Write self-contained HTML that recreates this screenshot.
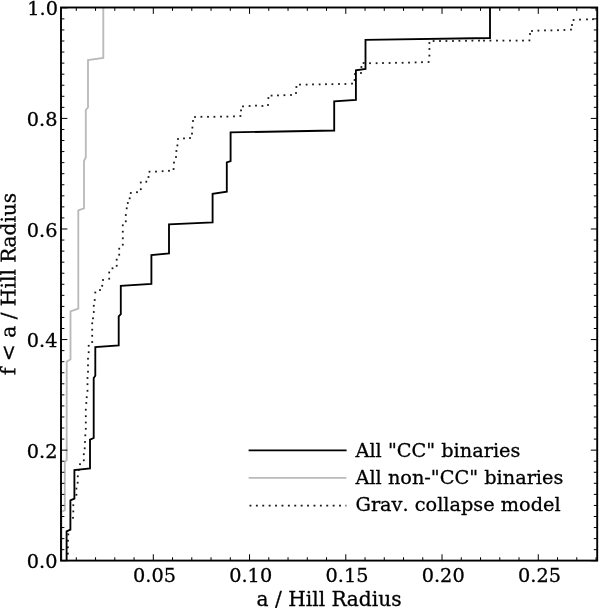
<!DOCTYPE html>
<html><head><meta charset="utf-8"><title>a / Hill Radius</title>
<style>html,body{margin:0;padding:0;background:#fff}svg{display:block}text{stroke:#000;stroke-width:0.3px;font-kerning:none;font-family:"DejaVu Serif","Liberation Serif",serif;fill:#000}</style></head><body>
<svg width="600" height="608" viewBox="0 0 600 608">
<rect width="600" height="608" fill="#fff"/>
<polyline points="61.5,560.5 61.5,511.6 64.8,510.4 64.8,462.0 66.7,460.0 66.7,361.7 70.5,359.2 70.5,311.3 78.3,308.7 78.3,210.5 84.0,208.3 84.0,160.8 85.8,157.5 85.8,110.0 88.0,107.5 88.0,60.0 103.3,58.0 103.3,7.4" fill="none" stroke="#bababa" stroke-width="1.85" stroke-linejoin="miter"/>
<g fill="#000" opacity="0.9"><rect x="76.8" y="481.8" width="1.8" height="1.8"/><rect x="75.5" y="487.7" width="1.8" height="1.8"/><rect x="75.5" y="493.9" width="1.8" height="1.8"/><rect x="72.4" y="504.3" width="1.8" height="1.8"/><rect x="72.4" y="510.5" width="1.8" height="1.8"/><rect x="72.1" y="516.9" width="1.8" height="1.8"/><rect x="67.4" y="533.5" width="1.8" height="1.8"/><rect x="67.1" y="539.8" width="1.8" height="1.8"/><rect x="67.0" y="546.4" width="1.8" height="1.8"/><rect x="67.0" y="552.7" width="1.8" height="1.8"/><rect x="85.4" y="402.1" width="1.8" height="1.8"/><rect x="84.9" y="408.8" width="1.8" height="1.8"/><rect x="84.9" y="415.3" width="1.8" height="1.8"/><rect x="84.9" y="421.6" width="1.8" height="1.8"/><rect x="84.9" y="427.9" width="1.8" height="1.8"/><rect x="84.4" y="434.4" width="1.8" height="1.8"/><rect x="84.1" y="441.1" width="1.8" height="1.8"/><rect x="83.8" y="447.4" width="1.8" height="1.8"/><rect x="82.9" y="453.3" width="1.8" height="1.8"/><rect x="82.9" y="459.4" width="1.8" height="1.8"/><rect x="79.1" y="463.3" width="1.8" height="1.8"/><rect x="77.8" y="469.1" width="1.8" height="1.8"/><rect x="76.9" y="475.4" width="1.8" height="1.8"/><rect x="93.8" y="299.1" width="1.8" height="1.8"/><rect x="92.9" y="304.9" width="1.8" height="1.8"/><rect x="92.9" y="311.1" width="1.8" height="1.8"/><rect x="92.1" y="317.4" width="1.8" height="1.8"/><rect x="91.3" y="322.4" width="1.8" height="1.8"/><rect x="91.3" y="328.8" width="1.8" height="1.8"/><rect x="91.3" y="334.9" width="1.8" height="1.8"/><rect x="91.3" y="341.1" width="1.8" height="1.8"/><rect x="87.8" y="344.9" width="1.8" height="1.8"/><rect x="87.8" y="351.3" width="1.8" height="1.8"/><rect x="87.1" y="357.8" width="1.8" height="1.8"/><rect x="87.1" y="364.4" width="1.8" height="1.8"/><rect x="87.1" y="370.8" width="1.8" height="1.8"/><rect x="86.6" y="377.1" width="1.8" height="1.8"/><rect x="86.6" y="383.3" width="1.8" height="1.8"/><rect x="86.6" y="389.9" width="1.8" height="1.8"/><rect x="85.8" y="396.3" width="1.8" height="1.8"/><rect x="126.9" y="202.1" width="1.8" height="1.8"/><rect x="125.8" y="207.4" width="1.8" height="1.8"/><rect x="124.9" y="214.1" width="1.8" height="1.8"/><rect x="124.9" y="220.4" width="1.8" height="1.8"/><rect x="121.9" y="224.4" width="1.8" height="1.8"/><rect x="121.9" y="230.8" width="1.8" height="1.8"/><rect x="121.9" y="237.4" width="1.8" height="1.8"/><rect x="121.9" y="243.8" width="1.8" height="1.8"/><rect x="118.3" y="247.8" width="1.8" height="1.8"/><rect x="118.3" y="253.8" width="1.8" height="1.8"/><rect x="115.8" y="258.8" width="1.8" height="1.8"/><rect x="115.8" y="264.9" width="1.8" height="1.8"/><rect x="111.6" y="267.4" width="1.8" height="1.8"/><rect x="108.3" y="271.6" width="1.8" height="1.8"/><rect x="108.3" y="277.8" width="1.8" height="1.8"/><rect x="102.1" y="279.1" width="1.8" height="1.8"/><rect x="101.3" y="284.9" width="1.8" height="1.8"/><rect x="99.1" y="289.1" width="1.8" height="1.8"/><rect x="94.4" y="291.6" width="1.8" height="1.8"/><rect x="128.8" y="197.4" width="1.8" height="1.8"/><rect x="129.9" y="192.1" width="1.8" height="1.8"/><rect x="136.1" y="191.3" width="1.8" height="1.8"/><rect x="139.9" y="188.3" width="1.8" height="1.8"/><rect x="139.9" y="181.6" width="1.8" height="1.8"/><rect x="145.4" y="180.8" width="1.8" height="1.8"/><rect x="147.6" y="176.1" width="1.8" height="1.8"/><rect x="148.6" y="170.8" width="1.8" height="1.8"/><rect x="155.1" y="170.7" width="1.8" height="1.8"/><rect x="161.7" y="170.3" width="1.8" height="1.8"/><rect x="168.1" y="169.9" width="1.8" height="1.8"/><rect x="172.7" y="168.1" width="1.8" height="1.8"/><rect x="173.1" y="161.7" width="1.8" height="1.8"/><rect x="175.1" y="156.1" width="1.8" height="1.8"/><rect x="175.5" y="150.1" width="1.8" height="1.8"/><rect x="176.5" y="144.5" width="1.8" height="1.8"/><rect x="177.1" y="138.1" width="1.8" height="1.8"/><rect x="183.1" y="137.5" width="1.8" height="1.8"/><rect x="189.1" y="137.1" width="1.8" height="1.8"/><rect x="191.1" y="132.7" width="1.8" height="1.8"/><rect x="191.5" y="126.7" width="1.8" height="1.8"/><rect x="192.1" y="120.1" width="1.8" height="1.8"/><rect x="194.1" y="116.1" width="1.8" height="1.8"/><rect x="200.5" y="115.9" width="1.8" height="1.8"/><rect x="207.1" y="115.9" width="1.8" height="1.8"/><rect x="213.5" y="115.9" width="1.8" height="1.8"/><rect x="220.1" y="115.7" width="1.8" height="1.8"/><rect x="226.5" y="115.7" width="1.8" height="1.8"/><rect x="233.1" y="115.5" width="1.8" height="1.8"/><rect x="239.5" y="115.1" width="1.8" height="1.8"/><rect x="240.1" y="109.5" width="1.8" height="1.8"/><rect x="242.1" y="105.5" width="1.8" height="1.8"/><rect x="248.7" y="105.1" width="1.8" height="1.8"/><rect x="255.1" y="104.7" width="1.8" height="1.8"/><rect x="261.5" y="105.1" width="1.8" height="1.8"/><rect x="267.1" y="104.1" width="1.8" height="1.8"/><rect x="267.5" y="97.1" width="1.8" height="1.8"/><rect x="270.7" y="94.7" width="1.8" height="1.8"/><rect x="277.1" y="94.5" width="1.8" height="1.8"/><rect x="283.5" y="94.3" width="1.8" height="1.8"/><rect x="290.1" y="94.1" width="1.8" height="1.8"/><rect x="295.1" y="92.1" width="1.8" height="1.8"/><rect x="295.5" y="86.1" width="1.8" height="1.8"/><rect x="299.1" y="83.7" width="1.8" height="1.8"/><rect x="305.7" y="83.7" width="1.8" height="1.8"/><rect x="312.1" y="83.5" width="1.8" height="1.8"/><rect x="318.7" y="83.5" width="1.8" height="1.8"/><rect x="325.1" y="83.3" width="1.8" height="1.8"/><rect x="331.5" y="83.3" width="1.8" height="1.8"/><rect x="338.1" y="83.1" width="1.8" height="1.8"/><rect x="344.5" y="83.1" width="1.8" height="1.8"/><rect x="351.1" y="82.7" width="1.8" height="1.8"/><rect x="353.7" y="79.1" width="1.8" height="1.8"/><rect x="354.1" y="73.1" width="1.8" height="1.8"/><rect x="360.1" y="72.1" width="1.8" height="1.8"/><rect x="360.5" y="66.1" width="1.8" height="1.8"/><rect x="362.7" y="62.1" width="1.8" height="1.8"/><rect x="369.1" y="62.3" width="1.8" height="1.8"/><rect x="375.7" y="62.3" width="1.8" height="1.8"/><rect x="382.1" y="62.1" width="1.8" height="1.8"/><rect x="388.7" y="62.1" width="1.8" height="1.8"/><rect x="395.1" y="61.9" width="1.8" height="1.8"/><rect x="401.7" y="61.9" width="1.8" height="1.8"/><rect x="408.1" y="61.7" width="1.8" height="1.8"/><rect x="414.7" y="61.5" width="1.8" height="1.8"/><rect x="421.1" y="61.3" width="1.8" height="1.8"/><rect x="427.7" y="61.1" width="1.8" height="1.8"/><rect x="428.5" y="54.7" width="1.8" height="1.8"/><rect x="428.5" y="48.1" width="1.8" height="1.8"/><rect x="428.5" y="42.1" width="1.8" height="1.8"/><rect x="432.7" y="40.1" width="1.8" height="1.8"/><rect x="439.1" y="40.1" width="1.8" height="1.8"/><rect x="445.5" y="40.1" width="1.8" height="1.8"/><rect x="452.1" y="40.1" width="1.8" height="1.8"/><rect x="458.5" y="39.9" width="1.8" height="1.8"/><rect x="465.1" y="39.9" width="1.8" height="1.8"/><rect x="471.5" y="39.7" width="1.8" height="1.8"/><rect x="478.1" y="39.7" width="1.8" height="1.8"/><rect x="483.1" y="39.7" width="1.8" height="1.8"/><rect x="489.5" y="39.7" width="1.8" height="1.8"/><rect x="496.1" y="39.7" width="1.8" height="1.8"/><rect x="502.5" y="39.7" width="1.8" height="1.8"/><rect x="509.1" y="39.7" width="1.8" height="1.8"/><rect x="515.7" y="39.7" width="1.8" height="1.8"/><rect x="522.1" y="39.7" width="1.8" height="1.8"/><rect x="528.5" y="39.5" width="1.8" height="1.8"/><rect x="529.1" y="33.1" width="1.8" height="1.8"/><rect x="531.1" y="30.1" width="1.8" height="1.8"/><rect x="537.5" y="29.7" width="1.8" height="1.8"/><rect x="544.1" y="29.5" width="1.8" height="1.8"/><rect x="550.5" y="29.5" width="1.8" height="1.8"/><rect x="557.1" y="29.3" width="1.8" height="1.8"/><rect x="563.5" y="29.1" width="1.8" height="1.8"/><rect x="570.1" y="28.7" width="1.8" height="1.8"/><rect x="571.1" y="24.1" width="1.8" height="1.8"/><rect x="572.7" y="19.1" width="1.8" height="1.8"/><rect x="579.1" y="18.7" width="1.8" height="1.8"/><rect x="586.1" y="18.5" width="1.8" height="1.8"/><rect x="592.1" y="18.3" width="1.8" height="1.8"/></g>
<polyline points="66.6,560.5 66.6,531.4 70.4,529.6 70.4,500.4 74.4,498.6 74.4,470.0 90.0,468.3 90.0,439.7 93.7,438.0 93.7,378.0 95.3,375.8 95.3,347.2 118.7,345.3 118.7,316.3 120.8,314.2 120.8,285.8 151.4,284.0 151.4,255.0 169.0,253.4 169.0,224.4 212.6,222.4 212.6,193.8 226.8,191.6 226.8,162.4 230.6,161.0 230.6,132.4 334.2,130.5 334.2,101.4 355.9,99.8 355.9,70.3 365.5,68.9 365.5,39.8 490.0,38.0 490.0,7.4" fill="none" stroke="#000" stroke-width="1.85" stroke-linejoin="miter"/>
<path d="M76.30 560.65 v-3.4 M76.30 7.5 v3.4 M95.55 560.65 v-3.4 M95.55 7.5 v3.4 M114.80 560.65 v-3.4 M114.80 7.5 v3.4 M134.05 560.65 v-3.4 M134.05 7.5 v3.4 M153.30 560.65 v-6.4 M153.30 7.5 v6.4 M172.54 560.65 v-3.4 M172.54 7.5 v3.4 M191.79 560.65 v-3.4 M191.79 7.5 v3.4 M211.04 560.65 v-3.4 M211.04 7.5 v3.4 M230.29 560.65 v-3.4 M230.29 7.5 v3.4 M249.54 560.65 v-6.4 M249.54 7.5 v6.4 M268.79 560.65 v-3.4 M268.79 7.5 v3.4 M288.04 560.65 v-3.4 M288.04 7.5 v3.4 M307.29 560.65 v-3.4 M307.29 7.5 v3.4 M326.54 560.65 v-3.4 M326.54 7.5 v3.4 M345.79 560.65 v-6.4 M345.79 7.5 v6.4 M365.04 560.65 v-3.4 M365.04 7.5 v3.4 M384.28 560.65 v-3.4 M384.28 7.5 v3.4 M403.53 560.65 v-3.4 M403.53 7.5 v3.4 M422.78 560.65 v-3.4 M422.78 7.5 v3.4 M442.03 560.65 v-6.4 M442.03 7.5 v6.4 M461.28 560.65 v-3.4 M461.28 7.5 v3.4 M480.53 560.65 v-3.4 M480.53 7.5 v3.4 M499.78 560.65 v-3.4 M499.78 7.5 v3.4 M519.03 560.65 v-3.4 M519.03 7.5 v3.4 M538.28 560.65 v-6.4 M538.28 7.5 v6.4 M557.52 560.65 v-3.4 M557.52 7.5 v3.4 M576.77 560.65 v-3.4 M576.77 7.5 v3.4 M596.02 560.65 v-3.4 M596.02 7.5 v3.4 M61.0 560.73 h6.4 M597.2 560.73 h-6.4 M61.0 549.67 h3.4 M597.2 549.67 h-3.4 M61.0 538.61 h3.4 M597.2 538.61 h-3.4 M61.0 527.56 h3.4 M597.2 527.56 h-3.4 M61.0 516.50 h3.4 M597.2 516.50 h-3.4 M61.0 505.44 h3.4 M597.2 505.44 h-3.4 M61.0 494.38 h3.4 M597.2 494.38 h-3.4 M61.0 483.32 h3.4 M597.2 483.32 h-3.4 M61.0 472.27 h3.4 M597.2 472.27 h-3.4 M61.0 461.21 h3.4 M597.2 461.21 h-3.4 M61.0 450.15 h6.4 M597.2 450.15 h-6.4 M61.0 439.09 h3.4 M597.2 439.09 h-3.4 M61.0 428.03 h3.4 M597.2 428.03 h-3.4 M61.0 416.98 h3.4 M597.2 416.98 h-3.4 M61.0 405.92 h3.4 M597.2 405.92 h-3.4 M61.0 394.86 h3.4 M597.2 394.86 h-3.4 M61.0 383.80 h3.4 M597.2 383.80 h-3.4 M61.0 372.74 h3.4 M597.2 372.74 h-3.4 M61.0 361.69 h3.4 M597.2 361.69 h-3.4 M61.0 350.63 h3.4 M597.2 350.63 h-3.4 M61.0 339.57 h6.4 M597.2 339.57 h-6.4 M61.0 328.51 h3.4 M597.2 328.51 h-3.4 M61.0 317.45 h3.4 M597.2 317.45 h-3.4 M61.0 306.40 h3.4 M597.2 306.40 h-3.4 M61.0 295.34 h3.4 M597.2 295.34 h-3.4 M61.0 284.28 h3.4 M597.2 284.28 h-3.4 M61.0 273.22 h3.4 M597.2 273.22 h-3.4 M61.0 262.16 h3.4 M597.2 262.16 h-3.4 M61.0 251.11 h3.4 M597.2 251.11 h-3.4 M61.0 240.05 h3.4 M597.2 240.05 h-3.4 M61.0 228.99 h6.4 M597.2 228.99 h-6.4 M61.0 217.93 h3.4 M597.2 217.93 h-3.4 M61.0 206.87 h3.4 M597.2 206.87 h-3.4 M61.0 195.82 h3.4 M597.2 195.82 h-3.4 M61.0 184.76 h3.4 M597.2 184.76 h-3.4 M61.0 173.70 h3.4 M597.2 173.70 h-3.4 M61.0 162.64 h3.4 M597.2 162.64 h-3.4 M61.0 151.58 h3.4 M597.2 151.58 h-3.4 M61.0 140.53 h3.4 M597.2 140.53 h-3.4 M61.0 129.47 h3.4 M597.2 129.47 h-3.4 M61.0 118.41 h6.4 M597.2 118.41 h-6.4 M61.0 107.35 h3.4 M597.2 107.35 h-3.4 M61.0 96.29 h3.4 M597.2 96.29 h-3.4 M61.0 85.24 h3.4 M597.2 85.24 h-3.4 M61.0 74.18 h3.4 M597.2 74.18 h-3.4 M61.0 63.12 h3.4 M597.2 63.12 h-3.4 M61.0 52.06 h3.4 M597.2 52.06 h-3.4 M61.0 41.00 h3.4 M597.2 41.00 h-3.4 M61.0 29.95 h3.4 M597.2 29.95 h-3.4 M61.0 18.89 h3.4 M597.2 18.89 h-3.4 M61.0 7.83 h6.4 M597.2 7.83 h-6.4" stroke="#000" stroke-width="1" fill="none"/>
<rect x="61.0" y="7.5" width="536.2" height="553.1" fill="none" stroke="#000" stroke-width="1.9"/>
<text x="154.5" y="581.6" font-size="19.3" text-anchor="middle">0.05</text>
<text x="250.7" y="581.6" font-size="19.3" text-anchor="middle">0.10</text>
<text x="347.0" y="581.6" font-size="19.3" text-anchor="middle">0.15</text>
<text x="443.2" y="581.6" font-size="19.3" text-anchor="middle">0.20</text>
<text x="539.5" y="581.6" font-size="19.3" text-anchor="middle">0.25</text>
<text x="57.5" y="568.2" font-size="19.3" text-anchor="end">0.0</text>
<text x="57.5" y="457.7" font-size="19.3" text-anchor="end">0.2</text>
<text x="57.5" y="347.1" font-size="19.3" text-anchor="end">0.4</text>
<text x="57.5" y="236.5" font-size="19.3" text-anchor="end">0.6</text>
<text x="57.5" y="125.9" font-size="19.3" text-anchor="end">0.8</text>
<text x="58.0" y="14.8" font-size="19.3" text-anchor="end">1.0</text>
 <text x="329.1" y="605.6" font-size="20.2" text-anchor="middle">a / Hill Radius</text>
<text transform="translate(15.4 283.9) rotate(-89.96)" text-rendering="geometricPrecision" font-size="20.2" text-anchor="middle">f &lt; a / Hill Radius</text>
 <path d="M248.6 450.3 H346.6" stroke="#000" stroke-width="1.85" fill="none"/>
<path d="M248.6 477.9 H346.4" stroke="#bababa" stroke-width="1.8" fill="none"/>
<path d="M249.5 505.6 H346.4" stroke="#000" stroke-width="1.9" stroke-dasharray="1.9 4.5" fill="none" opacity="0.9"/>
<text x="355.5" y="457.0" font-size="19.3">All "CC" binaries</text>
<text x="355.5" y="484.4" font-size="19.3">All non-"CC" binaries</text>
<text x="355.5" y="510.7" font-size="19.3">Grav. collapse model</text>
</svg></body></html>
